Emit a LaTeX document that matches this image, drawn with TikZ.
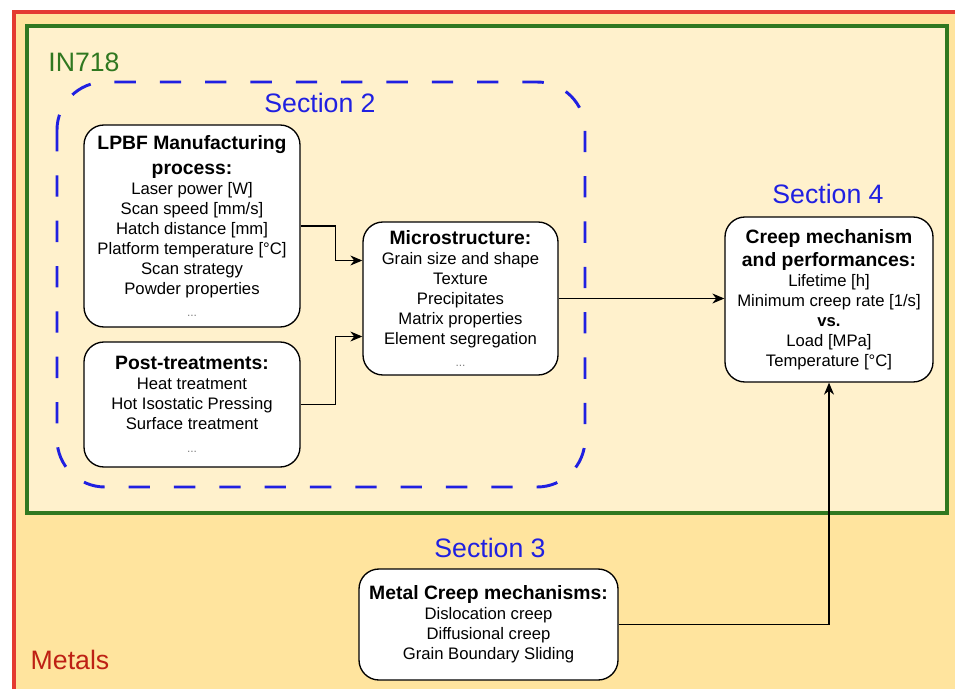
\documentclass[tikz,border=0pt]{standalone}
\usepackage{fontspec}
\setmainfont{Liberation Sans}
\usetikzlibrary{arrows.meta,calc}

\definecolor{metalfill}{RGB}{255,228,158}
\definecolor{alloyfill}{RGB}{255,241,204}
\definecolor{metalred}{RGB}{228,58,48}
\definecolor{metaltext}{RGB}{190,32,20}
\definecolor{alloygreen}{RGB}{48,120,32}
\definecolor{secblue}{RGB}{32,32,225}

\newcommand{\ttl}[1]{{\fontsize{14.5}{18}\selectfont\bfseries #1}}
\newcommand{\etc}{{\color{gray}\fontsize{9}{11}\selectfont ...}}

\tikzset{
  box/.style={draw, line width=1pt, fill=white, rounded corners=15pt,
    align=center, inner sep=0pt, font=\fontsize{12.5}{15}\selectfont},
  seclabel/.style={text=secblue, font=\fontsize{20}{24}\selectfont},
  flow/.style={-{Stealth[length=9pt,width=7.5pt]}, line width=0.8pt}
}

\begin{document}
\begin{tikzpicture}[x=0.75pt,y=-0.75pt]
  \useasboundingbox (0,0) rectangle (955,688);
  \fill[white] (0,0) rectangle (955,688);
  \clip (0,0) rectangle (955,688);

  % frames
  \draw[metalred, line width=2.4pt, fill=metalfill] (14,12) rectangle (990,720);
  \draw[alloygreen, line width=2.4pt, fill=alloyfill] (27,26) rectangle (947,513);
  \draw[secblue, line width=2.2pt, dash pattern=on 16pt off 18pt,
    rounded corners=36pt] (57,82) rectangle (585,487);

  \node[text=alloygreen, font=\fontsize{20}{24}\selectfont] (in718) at (84,62) {IN718};
  \node[text=metaltext, font=\fontsize{20}{24}\selectfont] (metals) at (70,660) {Metals};
  \node[seclabel] (sec2) at (320,103) {Section 2};
  \node[seclabel] (sec4) at (828,194) {Section 4};
  \node[seclabel] (sec3) at (490,548) {Section 3};

  \node[box, minimum width=162pt, minimum height=151.5pt] (lpbf) at (192,226)
    {\ttl{LPBF Manufacturing}\\[3.5pt]\ttl{process:}\\Laser power [W]\\Scan speed [mm/s]\\
     Hatch distance [mm]\\Platform temperature [°C]\\Scan strategy\\Powder properties\\[2pt]\etc};
  \node[box, minimum width=162pt, minimum height=93.75pt] (post) at (192,404.5)
    {\ttl{Post-treatments:}\\Heat treatment\\Hot Isostatic Pressing\\Surface treatment\\[2pt]\etc};
  \node[box, minimum width=146.25pt, minimum height=114.75pt] (micro) at (460.5,298.5)
    {\ttl{Microstructure:}\\Grain size and shape\\Texture\\Precipitates\\Matrix properties\\
     Element segregation\\[2pt]\etc};
  \node[box, minimum width=156pt, minimum height=123.75pt] (creep) at (829,299.5)
    {\ttl{Creep mechanism}\\[2.5pt]\ttl{and performances:}\\Lifetime [h]\\Minimum creep rate [1/s]\\
     \textbf{vs.}\\Load [MPa]\\Temperature [°C]};
  \node[box, minimum width=194.25pt, minimum height=83.25pt] (mech) at (488.5,624.5)
    {\ttl{Metal Creep mechanisms:}\\Dislocation creep\\Diffusional creep\\Grain Boundary Sliding};

  \draw[flow] (lpbf.east) -- ++(35,0) |- ($(micro.west)+(0,-38)$);
  \draw[flow] (post.east) -- ++(35,0) |- ($(micro.west)+(0,38)$);
  \draw[flow] (micro.east) -- (micro.east -| creep.west);
  \draw[flow] (mech.east) -| (creep.south);
\end{tikzpicture}
\end{document}
